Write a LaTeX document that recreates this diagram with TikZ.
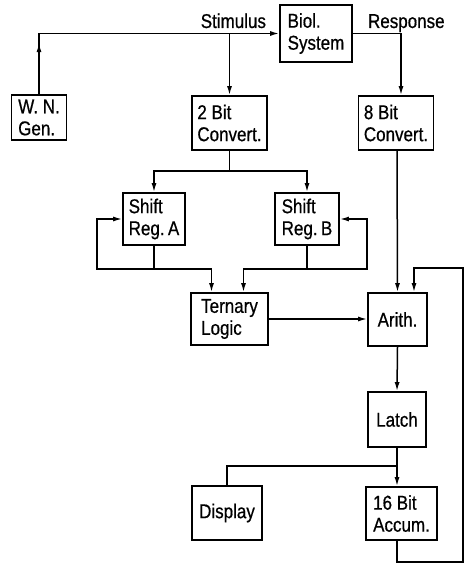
\documentclass[tikz,border=0pt]{standalone}
\usepackage{fontspec}
\setmainfont{Liberation Sans}[FakeStretch=0.85, FakeBold=0.6]
\usetikzlibrary{arrows.meta, calc, decorations.markings, positioning}

\begin{document}
\begin{tikzpicture}[
    x=1pt, y=-1pt,
    block/.style={
        draw=black, line width=1.7pt,
        align=left, inner sep=3pt,
        font=\fontsize{20}{22}\selectfont
    },
    sig/.style={
        draw=black, line width=1.5pt
    },
    sigarrow/.style={
        sig, -{Latex[length=9pt, width=5pt]}
    },
    midtip/.style={
        postaction={decorate},
        decoration={markings,
            mark=at position #1 with {\arrow{Latex[length=9pt, width=5pt]}}}
    },
    siglabel/.style={
        font=\fontsize{20}{22}\selectfont, inner sep=2pt
    },
]

% === Page frame ===
\useasboundingbox (0,0) rectangle (466,569);

% === Top row ===
\node[block, minimum width=72pt, minimum height=57pt] (biol) at (316,33.5) {Biol.\\System};
\node[block, minimum width=55pt, minimum height=45pt] (wn) at (39,117.5) {W. N.\\Gen.};
\node[block, minimum width=75pt, minimum height=54pt] (conv2) at (229.5,123) {2 Bit\\Convert.};
\node[block, minimum width=75pt, minimum height=54pt] (conv8) at (396,123) {8 Bit\\Convert.};

% Signal labels
\node[siglabel, anchor=base east] (stimlabel) at ([xshift=-11pt, yshift=5.5pt]biol.west) {Stimulus};
\node[siglabel, anchor=base west] (resplabel) at ([xshift=13pt, yshift=5.5pt]biol.east) {Response};

% === Shift registers and logic ===
\node[block, minimum width=62pt, minimum height=52pt] (shA) at (154,219) {Shift\\Reg.\,A};
\node[block, minimum width=64pt, minimum height=52pt] (shB) at (307,219) {Shift\\Reg.\,B};
\node[block, minimum width=77pt, minimum height=52pt] (tern) at (229.5,319) {Ternary\\Logic};
\node[block, minimum width=59pt, minimum height=53pt] (arith) at (397.5,319.5) {Arith.};

% === Output chain ===
\node[block, minimum width=58pt, minimum height=55pt] (latch) at (397,419.5) {Latch};
\node[block, minimum width=70pt, minimum height=54pt] (disp) at (227,513) {Display};
\node[block, minimum width=71pt, minimum height=53pt] (accum) at (401.5,513.5) {16 Bit\\Accum.};

% === Junctions and corners ===
\coordinate (stimtap) at (conv2.north |- biol.west);
\coordinate (split2) at ([yshift=-20pt]conv2.south);
\coordinate (fbA) at ([yshift=-23pt]shA.south);
\coordinate (fbB) at ([yshift=-23pt]shB.south);
\coordinate (split3) at ([yshift=-18pt]latch.south);
\coordinate (loopSE) at (463,562);
\coordinate (loopNE) at (463,268);

% === Stimulus and response paths ===
\draw[sigarrow, midtip=0.17] (wn.north) |- (biol.west);
\draw[sigarrow] (stimtap) -- (conv2.north);
\draw[sigarrow] (biol.east) -| ([xshift=5pt]conv8.north);

% === 2 bit converter to shift registers ===
\draw[sig] (conv2.south) -- (split2);
\draw[sigarrow] (split2) -| (shA.north);
\draw[sigarrow] (split2) -| (shB.north);

% Shift register A feedback
\draw[sig] (shA.south) -- (fbA);
\draw[sigarrow] (fbA) -- ++(-57,0) |- (shA.west);
\draw[sigarrow] (fbA) -| ([xshift=-18pt]tern.north);

% Shift register B feedback
\draw[sig] (shB.south) -- (fbB);
\draw[sigarrow] (fbB) -- ++(60,0) |- (shB.east);
\draw[sigarrow] (fbB) -| ([xshift=14pt]tern.north);

% === Arithmetic ===
\draw[sigarrow] (tern.east) -- (tern.east -| arith.west);
\draw[sigarrow] ([xshift=1pt]conv8.south) -- (arith.north);
\draw[sigarrow] (arith.south) -- (latch.north);

% === Latch to display and accumulator ===
\draw[sig] (latch.south) -- (split3);
\draw[sig] (split3) -| (disp.north);
\draw[sigarrow] (split3) -- (split3 |- accum.north);

% Accumulator feedback loop
\draw[sigarrow] (latch.south |- accum.south) |- (loopSE) -- (loopNE) -| ([xshift=16.5pt]arith.north);

\end{tikzpicture}
\end{document}
